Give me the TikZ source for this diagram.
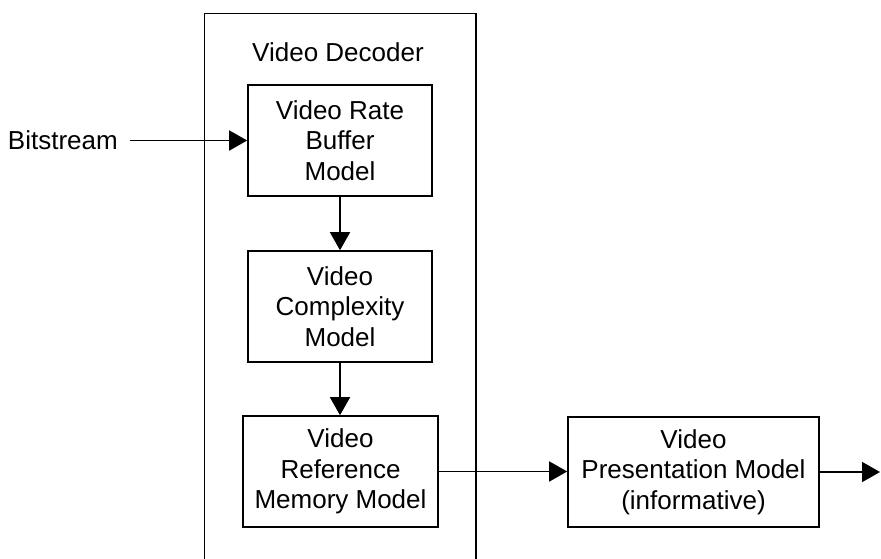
\documentclass[tikz,border=0pt]{standalone}
\usepackage{fontspec}
\setmainfont{Liberation Sans}
\usetikzlibrary{arrows.meta, positioning, calc}
\definecolor{vdline}{RGB}{0,0,0}

\begin{document}
\begin{tikzpicture}[x=1pt,y=-1pt,
	font=\fontsize{26}{30.7}\selectfont,
	blk/.style={draw=vdline, line width=1.6pt, align=center, inner sep=0pt, minimum height=111pt},
	flow/.style={draw=vdline, line width=1.6pt, -{Triangle[length=18pt,width=20pt]}}]
	\useasboundingbox (0,0) rectangle (881,558);
	% decoder frame, runs off the bottom
	\node[draw=vdline, line width=1.6pt, inner sep=0pt, anchor=north west,
		minimum width=271.5pt, minimum height=570pt] (dec) at (203.5,12.7) {};
	\node (declabel) at (338,52) {Video Decoder};
	\node[blk, minimum width=184pt] (rate) at (340,140.5) {Video Rate\\Buffer\\Model};
	\node[blk, minimum width=184pt] (cplx) at (340,306.5) {Video\\Complexity\\Model};
	\node[blk, minimum width=195pt] (refm) at (340.5,471.5) {Video\\Reference\\Memory Model};
	\node[blk, minimum width=251pt, minimum height=110pt] (pres) at (693.5,472) {Video\\Presentation Model\\(informative)};
	\node[anchor=east, inner xsep=12pt, inner ysep=0pt] (bits) at (130,140.5) {Bitstream};
	\coordinate (out) at (880,472);
	\draw[flow] (bits.east) -- (bits.east -| rate.west);
	\draw[flow] (rate) -- (cplx);
	\draw[flow] (cplx.south) -- (cplx.south |- refm.north);
	\draw[flow] (refm.east) -- (refm.east -| pres.west);
	\draw[flow] (pres.east) -- (out);
\end{tikzpicture}
\end{document}
